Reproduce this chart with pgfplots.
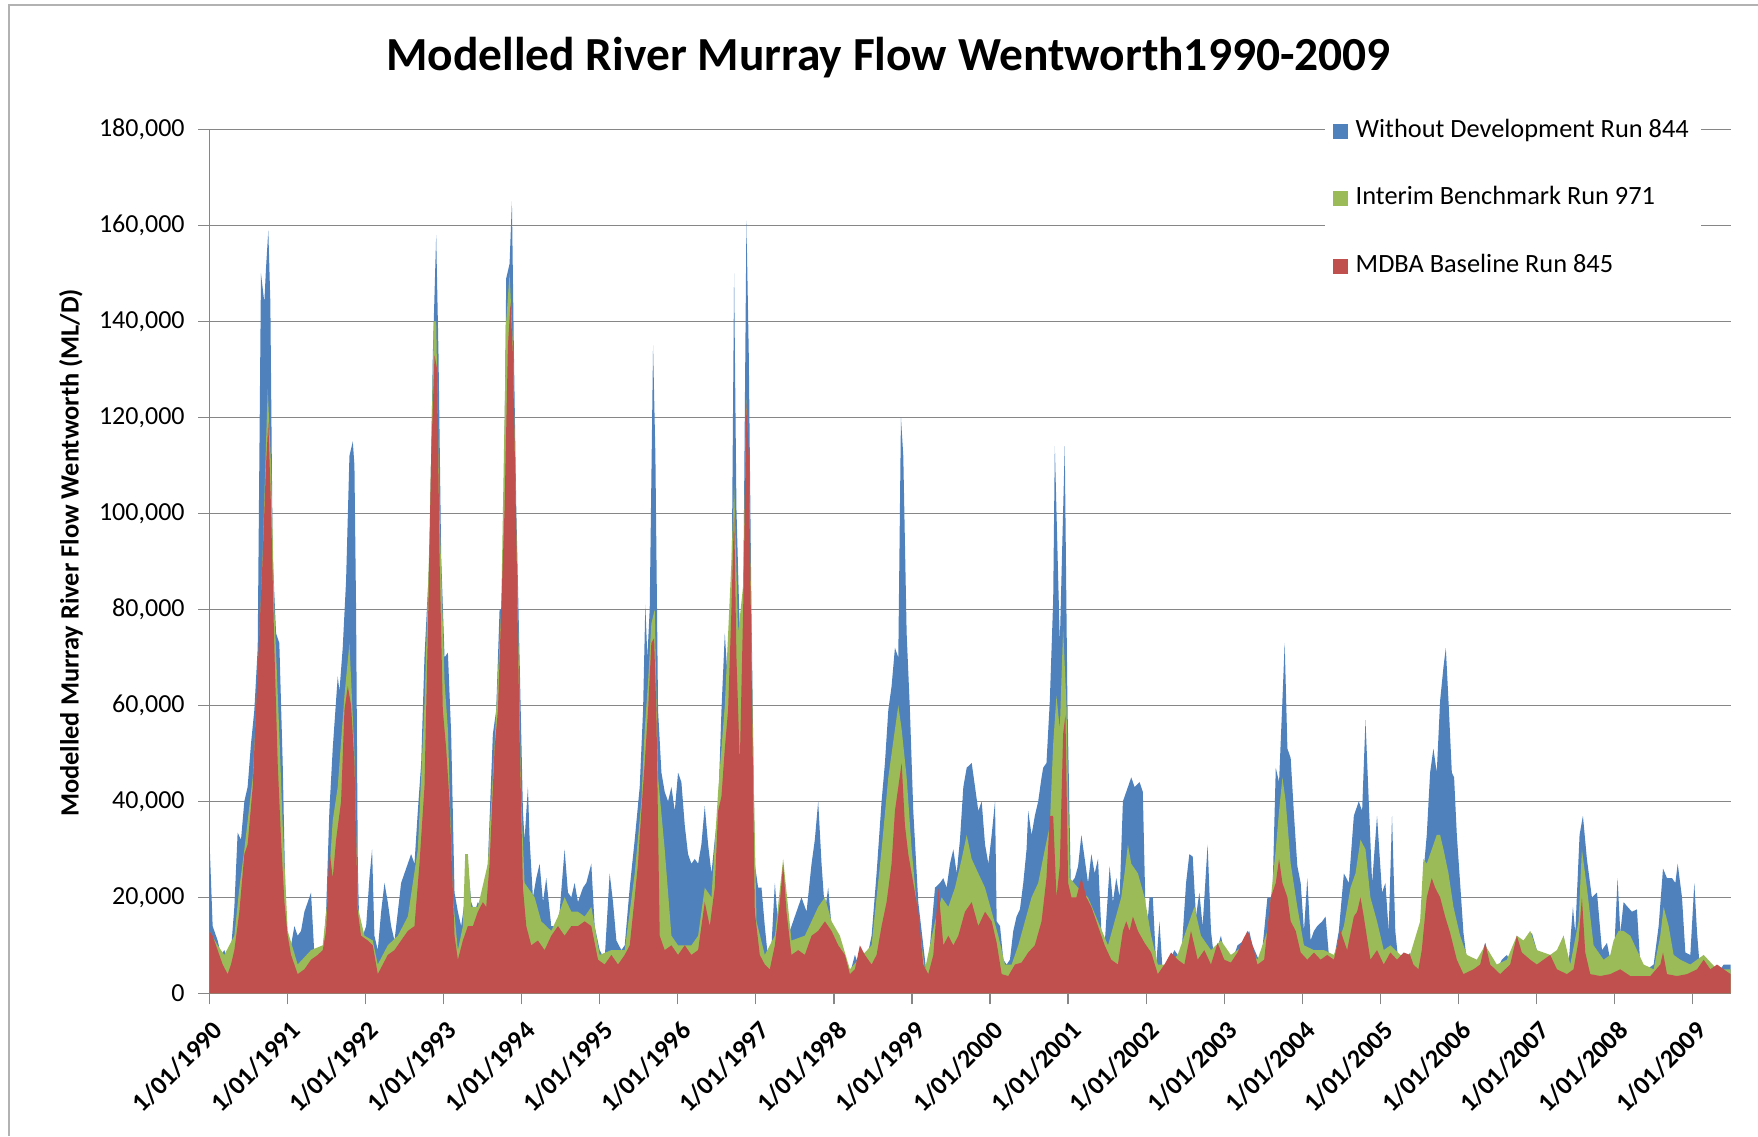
\documentclass[border=0pt]{standalone}
\usepackage{pgfplots}
\pgfplotsset{compat=1.18}
\usepackage{pgfplotstable}
\usepackage{fontspec}
\setmainfont{Carlito}

\definecolor{wdblue}{HTML}{4F81BD}
\definecolor{ibgreen}{HTML}{9BBB59}
\definecolor{mbred}{HTML}{C0504D}
\definecolor{gridgray}{HTML}{868686}

% Without Development Run 844 (ML/D)
\pgfplotstableread{
x y
1990.000 33000
1990.043 14000
1990.107 11000
1990.150 8000
1990.192 9000
1990.235 7000
1990.278 9000
1990.321 18000
1990.363 33500
1990.406 32000
1990.449 40000
1990.491 43000
1990.534 52000
1990.577 59000
1990.620 72000
1990.662 150000
1990.705 144000
1990.726 151000
1990.756 159000
1990.782 144000
1990.812 91000
1990.855 75000
1990.897 73000
1990.940 48000
1990.983 14000
1991.004 12000
1991.047 10000
1991.090 14000
1991.132 12000
1991.175 13000
1991.218 17000
1991.261 19000
1991.303 21000
1991.346 8000
1991.389 6000
1991.453 8000
1991.496 17000
1991.538 38000
1991.581 51000
1991.645 66000
1991.667 63000
1991.709 72000
1991.752 86000
1991.795 112000
1991.838 115000
1991.859 110000
1991.880 80000
1991.902 27000
1991.923 12000
1991.966 12000
1992.009 14000
1992.051 24000
1992.085 30000
1992.115 12000
1992.158 9000
1992.201 17000
1992.244 23000
1992.286 19000
1992.329 14000
1992.372 11000
1992.415 17000
1992.457 23000
1992.521 26000
1992.585 29000
1992.628 27000
1992.671 38000
1992.714 48000
1992.756 70000
1992.821 91000
1992.863 133000
1992.906 158000
1992.936 133000
1992.970 91000
1993.013 70000
1993.056 71000
1993.098 54000
1993.141 21000
1993.184 17000
1993.226 14000
1993.269 19000
1993.312 27000
1993.355 19000
1993.397 17000
1993.440 19000
1993.483 18000
1993.526 19000
1993.568 27000
1993.632 54000
1993.675 59000
1993.718 80000
1993.761 80000
1993.803 149000
1993.846 152000
1993.876 165000
1993.902 133000
1993.932 101000
1993.974 70000
1994.017 38000
1994.038 32000
1994.081 43000
1994.103 32000
1994.145 20000
1994.188 24000
1994.231 27000
1994.274 19000
1994.316 24000
1994.380 14000
1994.444 14000
1994.487 17000
1994.551 30000
1994.594 21000
1994.637 20000
1994.679 23000
1994.722 19000
1994.786 22000
1994.829 23000
1994.893 27000
1994.936 14000
1995.000 9000
1995.064 7000
1995.128 25000
1995.171 19000
1995.214 11000
1995.278 9000
1995.321 10000
1995.385 22000
1995.449 32000
1995.513 43000
1995.556 59000
1995.585 81000
1995.611 70000
1995.641 80000
1995.684 135000
1995.714 112000
1995.748 59000
1995.791 46000
1995.833 42000
1995.876 40000
1995.919 43000
1995.962 38000
1996.004 46000
1996.047 44000
1996.090 35000
1996.132 29000
1996.175 27000
1996.218 28000
1996.261 27000
1996.303 31000
1996.346 39000
1996.389 31000
1996.432 25000
1996.474 32000
1996.517 38000
1996.560 59000
1996.603 75000
1996.645 64000
1996.688 80000
1996.722 150000
1996.752 101000
1996.795 75000
1996.838 80000
1996.880 161000
1996.910 133000
1996.944 80000
1996.987 27000
1997.030 22000
1997.073 22000
1997.115 14000
1997.158 7000
1997.201 10000
1997.244 23000
1997.286 14000
1997.350 22000
1997.393 11000
1997.457 14000
1997.521 17000
1997.585 20000
1997.650 17000
1997.714 27000
1997.756 32000
1997.799 40000
1997.842 27000
1997.885 17000
1997.927 22000
1997.970 14000
1998.013 12000
1998.077 10000
1998.141 7000
1998.205 4000
1998.269 8000
1998.312 6000
1998.355 9000
1998.419 7000
1998.483 12000
1998.547 25000
1998.611 40000
1998.654 48000
1998.697 59000
1998.739 64000
1998.782 72000
1998.825 70000
1998.859 120000
1998.889 112000
1998.932 75000
1998.974 59000
1999.017 38000
1999.081 19000
1999.145 10000
1999.188 4000
1999.231 10000
1999.295 22000
1999.359 23000
1999.402 24000
1999.444 22000
1999.487 27000
1999.530 30000
1999.573 25000
1999.615 32000
1999.658 43000
1999.701 47000
1999.765 48000
1999.808 43000
1999.850 38000
1999.893 40000
1999.936 31000
1999.979 27000
2000.021 33000
2000.064 40000
2000.085 15000
2000.128 14000
2000.170 7000
2000.213 6000
2000.255 7000
2000.298 13000
2000.340 16000
2000.383 17500
2000.426 23000
2000.468 30000
2000.489 38000
2000.532 33000
2000.574 37000
2000.617 40000
2000.660 45000
2000.681 47000
2000.723 48000
2000.766 61000
2000.809 82000
2000.830 114000
2000.894 73000
2000.957 114000
2000.991 61000
2001.034 23000
2001.085 24000
2001.128 26500
2001.170 33000
2001.213 28000
2001.255 23000
2001.298 29000
2001.340 25000
2001.383 28000
2001.426 13000
2001.468 10000
2001.532 26500
2001.574 19000
2001.617 24000
2001.660 20000
2001.702 40000
2001.745 42000
2001.809 45000
2001.851 43000
2001.915 44000
2001.957 42000
2002.000 11000
2002.043 20000
2002.085 20000
2002.128 6000
2002.170 15000
2002.213 4000
2002.277 6000
2002.362 9000
2002.447 7000
2002.511 23000
2002.553 29000
2002.596 28500
2002.638 16000
2002.681 21000
2002.723 14000
2002.787 31000
2002.830 13000
2002.872 7000
2002.957 12000
2003.021 7000
2003.085 6000
2003.170 10000
2003.255 11000
2003.319 13000
2003.362 10000
2003.468 6000
2003.511 13000
2003.553 20000
2003.617 20000
2003.660 47000
2003.702 44000
2003.745 61000
2003.774 73000
2003.809 51000
2003.851 49000
2003.894 37000
2003.936 26500
2003.979 23000
2004.021 13000
2004.064 24000
2004.106 11000
2004.149 13000
2004.191 14000
2004.255 15000
2004.298 16000
2004.340 8000
2004.404 7000
2004.468 13000
2004.532 25000
2004.596 23000
2004.660 37000
2004.723 40000
2004.766 38000
2004.809 57000
2004.851 40000
2004.894 23000
2004.957 37000
2005.021 21000
2005.064 23000
2005.106 13000
2005.149 37000
2005.191 13000
2005.234 6000
2005.298 6000
2005.380 8500
2005.444 5000
2005.509 12600
2005.551 25000
2005.594 33000
2005.637 46000
2005.679 51000
2005.722 46000
2005.765 61000
2005.808 68000
2005.838 72000
2005.872 61000
2005.915 46000
2005.944 45000
2005.979 33000
2006.021 23000
2006.064 12600
2006.107 7000
2006.192 6400
2006.278 7000
2006.342 10500
2006.406 7000
2006.491 5000
2006.556 7000
2006.620 8000
2006.684 6000
2006.748 12000
2006.812 9000
2006.876 11000
2006.940 12600
2007.004 9000
2007.090 7000
2007.175 8000
2007.261 7000
2007.346 12000
2007.410 6000
2007.466 18000
2007.496 12600
2007.551 33000
2007.594 37000
2007.645 28000
2007.709 20000
2007.774 21000
2007.838 9000
2007.902 10500
2007.944 7000
2007.987 6000
2008.038 24000
2008.073 12600
2008.115 19000
2008.167 18000
2008.222 17000
2008.286 17500
2008.329 6000
2008.415 5000
2008.500 6000
2008.564 14000
2008.620 26000
2008.671 24000
2008.735 24000
2008.778 23000
2008.808 27000
2008.863 20000
2008.906 8500
2008.970 8000
2009.021 23000
2009.056 12600
2009.098 4000
2009.184 6400
2009.269 5000
2009.355 5000
2009.397 6000
2009.487 6000
}\withoutdev

% Interim Benchmark Run 971 (ML/D)
\pgfplotstableread{
x y
1990.000 13000
1990.107 10000
1990.192 8000
1990.321 12000
1990.385 22000
1990.449 30000
1990.556 45000
1990.620 65000
1990.684 92000
1990.748 126000
1990.791 110000
1990.833 80000
1990.897 54000
1990.940 35000
1991.004 13000
1991.132 6000
1991.303 9000
1991.453 10000
1991.517 20000
1991.581 36000
1991.645 43000
1991.731 62000
1991.795 73000
1991.859 50000
1991.902 18000
1991.987 12000
1992.094 11000
1992.158 6000
1992.286 10000
1992.415 12000
1992.543 16000
1992.671 30000
1992.756 60000
1992.821 95000
1992.876 140000
1992.906 140000
1992.949 100000
1993.013 65000
1993.056 55000
1993.120 20000
1993.184 9000
1993.248 14000
1993.278 29000
1993.312 29000
1993.355 18000
1993.440 18000
1993.568 27000
1993.654 52000
1993.739 80000
1993.803 140000
1993.846 150000
1993.889 135000
1993.932 98000
1993.996 40000
1994.038 23000
1994.167 20000
1994.252 15000
1994.380 13000
1994.466 16000
1994.551 20000
1994.637 17000
1994.722 17000
1994.808 16000
1994.893 18000
1995.000 8000
1995.150 9000
1995.321 9000
1995.449 25000
1995.534 40000
1995.577 55000
1995.620 65000
1995.662 77000
1995.705 80000
1995.748 45000
1995.833 30000
1995.919 12000
1996.004 10000
1996.175 10000
1996.261 12000
1996.346 22000
1996.432 20000
1996.517 42000
1996.603 60000
1996.688 90000
1996.722 106000
1996.774 75000
1996.838 85000
1996.880 124000
1996.923 100000
1996.966 50000
1997.009 15000
1997.115 8000
1997.244 12000
1997.350 28000
1997.457 11000
1997.628 12000
1997.799 18000
1997.885 20000
1997.970 15000
1998.077 12000
1998.205 5000
1998.312 7000
1998.483 10000
1998.547 20000
1998.611 30000
1998.697 45000
1998.782 55000
1998.825 60000
1998.868 55000
1998.932 45000
1998.996 30000
1999.081 15000
1999.167 5000
1999.295 15000
1999.380 20000
1999.466 18000
1999.551 22000
1999.637 28000
1999.701 33000
1999.765 28000
1999.850 25000
1999.936 22000
2000.021 17000
2000.106 12000
2000.191 6000
2000.277 6000
2000.362 10000
2000.447 15000
2000.532 20000
2000.617 23000
2000.702 30000
2000.766 35000
2000.809 52000
2000.851 62000
2000.894 55000
2000.936 76000
2000.979 60000
2001.021 24000
2001.128 22000
2001.255 20000
2001.383 15000
2001.511 10000
2001.681 20000
2001.723 25000
2001.766 31000
2001.809 27000
2001.894 25000
2001.979 20000
2002.064 12000
2002.149 6000
2002.277 6000
2002.404 8000
2002.532 14000
2002.617 18000
2002.702 12000
2002.830 9000
2002.957 11000
2003.085 8000
2003.255 10000
2003.426 7000
2003.553 13000
2003.617 23000
2003.660 30000
2003.702 38000
2003.745 45000
2003.787 40000
2003.851 27000
2003.936 18000
2004.021 10000
2004.149 9000
2004.277 9000
2004.404 8000
2004.532 14000
2004.617 22000
2004.681 25000
2004.745 32000
2004.809 30000
2004.872 20000
2004.957 15000
2005.043 9000
2005.128 10000
2005.255 8000
2005.380 8000
2005.509 15000
2005.551 28000
2005.594 27000
2005.658 30000
2005.722 33000
2005.765 33000
2005.808 30000
2005.872 25000
2005.936 18000
2006.021 12000
2006.107 8000
2006.235 7000
2006.342 10000
2006.491 6000
2006.620 7000
2006.748 12000
2006.833 11000
2006.919 13000
2007.004 9000
2007.175 8000
2007.261 9000
2007.346 12000
2007.432 6000
2007.538 15000
2007.581 30000
2007.645 22000
2007.731 10000
2007.859 7000
2007.944 8000
2007.987 11000
2008.051 13000
2008.115 13000
2008.201 12000
2008.286 9000
2008.372 6000
2008.500 5000
2008.585 12000
2008.628 18000
2008.692 14000
2008.756 8000
2008.842 7000
2008.970 6000
2009.141 8000
2009.312 5000
2009.487 5000
}\interimbench

% MDBA Baseline Run 845 (ML/D)
\pgfplotstableread{
x y
1990.000 13000
1990.043 12000
1990.107 9000
1990.171 6000
1990.235 4000
1990.278 6000
1990.321 9000
1990.385 17000
1990.449 29000
1990.491 31000
1990.556 43000
1990.598 59000
1990.641 75000
1990.684 91000
1990.726 110000
1990.756 119000
1990.791 101000
1990.833 72000
1990.876 48000
1990.919 32000
1990.962 19000
1991.004 12000
1991.047 8000
1991.132 4000
1991.218 5000
1991.303 7000
1991.389 8000
1991.453 9000
1991.496 13000
1991.538 30000
1991.581 24000
1991.624 32000
1991.688 40000
1991.731 59000
1991.774 64000
1991.816 60000
1991.859 48000
1991.902 17000
1991.944 12000
1992.030 11000
1992.094 10000
1992.158 4000
1992.222 6000
1992.286 8000
1992.372 9000
1992.457 11000
1992.543 13000
1992.628 14000
1992.692 27000
1992.756 43000
1992.799 75000
1992.842 112000
1992.885 133000
1992.919 130000
1992.949 91000
1992.991 59000
1993.034 51000
1993.077 40000
1993.141 12000
1993.184 7000
1993.248 11000
1993.312 14000
1993.376 14000
1993.440 17000
1993.504 19000
1993.547 18000
1993.590 27000
1993.654 51000
1993.697 59000
1993.739 80000
1993.782 101000
1993.825 135000
1993.859 144000
1993.889 133000
1993.932 96000
1993.974 54000
1994.017 22000
1994.060 14000
1994.124 10000
1994.209 11000
1994.295 9000
1994.380 12000
1994.466 14000
1994.551 12000
1994.637 14000
1994.722 14000
1994.808 15000
1994.893 14000
1994.979 7000
1995.064 6000
1995.150 8000
1995.235 6000
1995.321 8000
1995.385 10000
1995.449 20000
1995.491 27000
1995.534 38000
1995.577 48000
1995.620 59000
1995.662 73000
1995.697 74000
1995.726 59000
1995.769 12000
1995.833 9000
1995.919 10000
1996.004 8000
1996.090 10000
1996.175 8000
1996.261 9000
1996.346 19000
1996.410 14000
1996.474 22000
1996.517 38000
1996.560 41000
1996.603 51000
1996.645 59000
1996.688 80000
1996.722 101000
1996.752 70000
1996.795 48000
1996.838 80000
1996.880 123000
1996.910 112000
1996.944 70000
1996.987 17000
1997.051 8000
1997.115 6000
1997.179 5000
1997.244 10000
1997.308 19000
1997.350 27000
1997.393 17000
1997.457 8000
1997.543 9000
1997.628 8000
1997.714 12000
1997.799 13000
1997.885 15000
1997.970 13000
1998.056 10000
1998.141 8000
1998.205 4000
1998.269 5000
1998.333 10000
1998.397 8000
1998.483 6000
1998.547 8000
1998.611 14000
1998.675 19000
1998.739 27000
1998.782 38000
1998.825 43000
1998.868 48000
1998.910 35000
1998.953 29000
1999.017 23000
1999.081 17000
1999.145 6000
1999.209 4000
1999.274 8000
1999.338 22000
1999.402 10000
1999.466 12000
1999.530 10000
1999.594 12000
1999.679 17000
1999.765 19000
1999.850 14000
1999.936 17000
2000.021 15000
2000.085 10500
2000.149 4000
2000.234 3600
2000.319 6000
2000.404 6400
2000.489 8500
2000.574 10000
2000.660 15000
2000.723 24000
2000.766 37000
2000.809 37000
2000.851 20000
2000.894 26500
2000.936 54000
2000.966 58000
2001.000 23000
2001.043 20000
2001.106 20000
2001.170 24000
2001.234 20000
2001.298 18000
2001.383 14000
2001.468 10000
2001.553 7000
2001.638 6000
2001.702 13000
2001.745 15000
2001.787 13000
2001.830 16000
2001.894 13000
2001.979 10500
2002.064 8500
2002.149 4000
2002.234 6000
2002.319 8500
2002.404 7000
2002.489 6000
2002.574 13000
2002.660 7000
2002.745 9000
2002.830 6000
2002.915 10500
2003.000 7000
2003.085 6400
2003.170 8500
2003.234 11000
2003.298 13000
2003.362 10000
2003.426 6000
2003.511 7000
2003.596 20000
2003.660 23000
2003.702 28000
2003.745 23000
2003.809 20000
2003.851 15000
2003.915 13000
2003.979 8500
2004.064 7000
2004.149 8500
2004.234 7000
2004.319 8000
2004.404 7000
2004.489 13000
2004.574 9000
2004.660 16000
2004.702 17000
2004.745 20000
2004.787 16000
2004.872 7000
2004.957 9000
2005.043 6000
2005.128 8500
2005.213 7000
2005.298 8500
2005.380 8000
2005.423 6000
2005.487 5000
2005.530 9000
2005.594 20000
2005.658 24000
2005.701 22000
2005.765 20000
2005.829 16000
2005.893 12600
2005.979 7000
2006.064 4000
2006.192 5000
2006.278 6000
2006.342 10500
2006.406 6000
2006.534 4000
2006.662 6000
2006.748 12000
2006.812 8500
2006.919 7000
2007.004 6000
2007.090 7000
2007.175 8000
2007.261 5000
2007.389 4000
2007.474 5000
2007.538 11000
2007.581 20000
2007.624 8500
2007.688 4000
2007.816 3600
2007.944 4000
2008.073 5000
2008.201 3600
2008.329 3600
2008.457 3600
2008.585 6000
2008.620 8500
2008.671 4000
2008.799 3600
2008.927 4000
2009.056 5000
2009.141 7000
2009.226 5000
2009.312 6000
2009.397 5000
2009.487 4000
}\mdbabase

\begin{document}
\begin{tikzpicture}
\useasboundingbox (0,0) rectangle (175.8mm,113.6mm);
\draw[gray!60, line width=0.25mm] (0.9mm,0) -- (0.9mm,113.1mm) -- (175.8mm,113.1mm);
\begin{axis}[
  at={(20.93mm,14.27mm)}, anchor=south west,
  scale only axis, width=152.14mm, height=86.38mm,
  xmin=1990, xmax=2009.487, ymin=0, ymax=180000,
  axis x line*=bottom, axis y line*=left,
  axis line style={gridgray, line width=0.13mm},
  tick align=outside, major tick length=1.1mm,
  tick style={gridgray, line width=0.13mm},
  ymajorgrids, grid style={gridgray, line width=0.13mm},
  xtick={1990,1991,...,2009},
  xticklabels={1/01/1990,1/01/1991,1/01/1992,1/01/1993,1/01/1994,1/01/1995,1/01/1996,1/01/1997,1/01/1998,1/01/1999,1/01/2000,1/01/2001,1/01/2002,1/01/2003,1/01/2004,1/01/2005,1/01/2006,1/01/2007,1/01/2008,1/01/2009},
  ytick={0,20000,...,180000}, scaled y ticks=false,
  yticklabel style={/pgf/number format/fixed, /pgf/number format/1000 sep={,}},
  /pgf/number format/assume math mode=true,
  tick label style={font=\fontsize{7.4}{8}\selectfont},
  xticklabel style={font=\bfseries\fontsize{7.4}{8}\selectfont, xshift=0.18mm, yshift=-1.43mm, rotate=45, anchor=north east, inner sep=0pt},
  every y tick label/.append style={inner xsep=0pt, xshift=-1.3mm},
  title={Modelled River Murray Flow Wentworth1990-2009},
  title style={font=\bfseries\fontsize{13.5}{15}\selectfont, at={(axis description cs:0.4464,1.0689)}, anchor=base, yshift=-6pt},
  ylabel={Modelled Murray River Flow Wentworth (ML/D)},
  ylabel style={font=\bfseries\fontsize{7.5}{9}\selectfont, at={(axis description cs:-0.0909,0.5097)}, rotate=0, anchor=center},
  legend cell align=left,
  legend image code/.code={\fill[#1] (0mm,-0.75mm) rectangle (1.5mm,0.75mm);},
  legend style={at={(0.7327,1.0325)}, anchor=north west, draw=none, fill=white,
    inner xsep=0.85mm, inner ysep=1.6mm, row sep=4.15mm, column sep=0.4mm,
    font=\fontsize{7.5}{9}\selectfont,
    nodes={inner xsep=0.35mm, inner ysep=0pt, text height=1.9mm, text depth=0.7mm}},
]
\addplot[fill=wdblue, draw=none] table {\withoutdev} \closedcycle;
\addlegendentry{Without Development Run 844}
\addplot[fill=ibgreen, draw=none] table {\interimbench} \closedcycle;
\addlegendentry{Interim Benchmark Run 971}
\addplot[fill=mbred, draw=none] table {\mdbabase} \closedcycle;
\addlegendentry{MDBA Baseline Run 845}
\end{axis}
\end{tikzpicture}
\end{document}
